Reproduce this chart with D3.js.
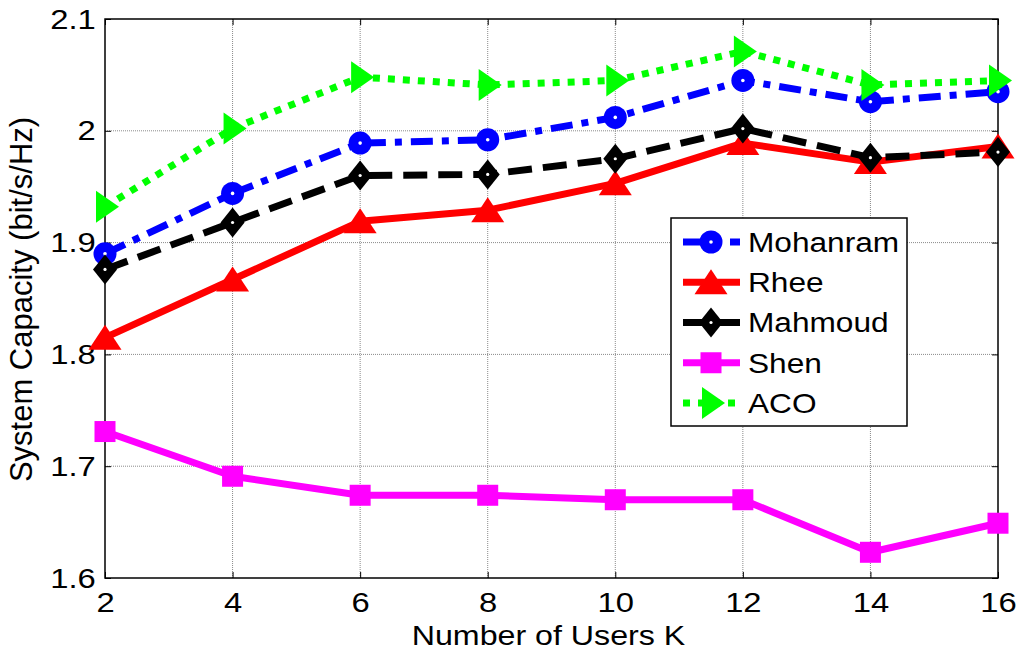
<!DOCTYPE html>
<html>
<head>
<meta charset="utf-8">
<script src="https://cdn.jsdelivr.net/npm/d3@7"></script>
<style>
  html, body { margin: 0; padding: 0; background: #fff; }
  svg { display: block; }
  text { font-family: "Liberation Sans", Arial, sans-serif; fill: #000; }
</style>
</head>
<body>
<svg id="chart" width="1021" height="656"></svg>
<script>
// Number of users on the x axis
const users = [2, 4, 6, 8, 10, 12, 14, 16];

// System capacity (bit/s/Hz) per allocation scheme
const mohanram = [1.890, 1.944, 1.989, 1.992, 2.012, 2.045, 2.026, 2.035];
const rhee     = [1.815, 1.867, 1.919, 1.929, 1.953, 1.989, 1.972, 1.986];
const mahmoud  = [1.876, 1.918, 1.960, 1.961, 1.975, 2.002, 1.976, 1.981];
const shen     = [1.731, 1.691, 1.674, 1.674, 1.670, 1.670, 1.623, 1.649];
const aco      = [1.932, 2.002, 2.048, 2.041, 2.045, 2.071, 2.041, 2.045];

const seriesNames = ["Mohanram", "Rhee", "Mahmoud", "Shen", "ACO"];

// Axis ticks
const xTicks = [2, 4, 6, 8, 10, 12, 14, 16];
const yTicks = [1.6, 1.7, 1.8, 1.9, 2.0, 2.1];
const yTickLabels = ["1.6", "1.7", "1.8", "1.9", "2", "2.1"];

const xTitle = "Number of Users K";
const yTitle = "System Capacity (bit/s/Hz)";

// ---- layout ----
const svg = d3.select("#chart");
const margin = { left: 105, top: 19, right: 23, bottom: 78 };
const W = 1021 - margin.left - margin.right;
const H = 656 - margin.top - margin.bottom;
const stretch = 1.15;   // glyphs in this figure are slightly wide

const x = d3.scaleLinear().domain([2, 16]).range([0, W]);
const y = d3.scaleLinear().domain([1.6, 2.1]).range([H, 0]);

const g = svg.append("g").attr("transform", `translate(${margin.left},${margin.top})`);

// grid
const grid = g.append("g").attr("class", "grid");
grid.selectAll("line.vx").data(xTicks.slice(1, -1)).join("line")
  .attr("x1", d => x(d)).attr("x2", d => x(d)).attr("y1", 0).attr("y2", H);
grid.selectAll("line.hy").data(yTicks.slice(1, -1)).join("line")
  .attr("x1", 0).attr("x2", W).attr("y1", d => y(d)).attr("y2", d => y(d));
grid.selectAll("line")
  .attr("stroke", "#8a8a8a").attr("stroke-width", 1).attr("stroke-dasharray", "1,1");

// axes with inward ticks on all four sides
const styleAxis = sel => {
  sel.select(".domain").remove();
  sel.selectAll(".tick line").attr("stroke", "#000").attr("stroke-width", 1);
};
const bottomAx = g.append("g").attr("transform", `translate(0,${H})`)
  .call(d3.axisBottom(x).tickValues(xTicks).tickSize(-6).tickPadding(14).tickFormat(d3.format("d")));
const leftAx = g.append("g")
  .call(d3.axisLeft(y).tickValues(yTicks).tickSize(-6).tickPadding(8)
    .tickFormat((d, i) => yTickLabels[i]));
g.append("g").call(d3.axisTop(x).tickValues(xTicks).tickSize(-6).tickFormat(""));
g.append("g").attr("transform", `translate(${W},0)`)
  .call(d3.axisRight(y).tickValues(yTicks).tickSize(-6).tickFormat(""));
g.selectAll("g").filter(function () { return this.parentNode === g.node(); }).call(styleAxis);

// tick labels, stretched horizontally about their anchor
[bottomAx, leftAx].forEach(ax => ax.selectAll(".tick text")
  .attr("font-size", 28.5)
  .attr("font-family", "Liberation Sans, Arial, sans-serif")
  .attr("transform", `scale(${stretch},1)`));

// frame
g.append("rect").attr("x", 0).attr("y", 0).attr("width", W).attr("height", H)
  .attr("fill", "none").attr("stroke", "#000").attr("stroke-width", 1.5);

// axis titles
g.append("text")
  .attr("transform", `translate(${W / 2 - 3},${H + 67}) scale(${stretch},1)`)
  .attr("text-anchor", "middle").attr("font-size", 28).text(xTitle);
g.append("text")
  .attr("transform", `translate(${-73},${H / 2 + 1}) rotate(-90)`)
  .attr("text-anchor", "middle").attr("font-size", 31).text(yTitle);

// ---- marker shapes ----
const markers = {
  circle: sel => {
    sel.append("circle").attr("r", 11.5).attr("fill", "#0000ff");
    sel.append("circle").attr("r", 1.8).attr("fill", "#fff");
  },
  triUp: sel => sel.append("path").attr("d", "M0,-13L16.5,12L-16.5,12Z").attr("fill", "#ff0000"),
  diamond: sel => {
    sel.append("path").attr("d", "M0,-15L12,0L0,15L-12,0Z").attr("fill", "#000");
    sel.append("circle").attr("r", 1.6).attr("fill", "#fff");
  },
  square: sel => sel.append("rect").attr("x", -10.5).attr("y", -10.5).attr("width", 21).attr("height", 21).attr("fill", "#ff00ff"),
  triRight: sel => sel.append("path").attr("d", "M-9,-16L14,0L-9,16Z").attr("fill", "#00ff00")
};

const series = [
  { name: seriesNames[0], values: mohanram, color: "#0000ff", dash: "22,9,7,9", marker: "circle" },
  { name: seriesNames[1], values: rhee,     color: "#ff0000", dash: null,       marker: "triUp" },
  { name: seriesNames[2], values: mahmoud,  color: "#000000", dash: "24,11",    marker: "diamond" },
  { name: seriesNames[3], values: shen,     color: "#ff00ff", dash: null,       marker: "square" },
  { name: seriesNames[4], values: aco,      color: "#00ff00", dash: "7,8",      marker: "triRight" }
];

const line = d3.line().x((d, i) => x(users[i])).y(d => y(d));

const plot = g.append("g");
series.forEach(s => {
  const sg = plot.append("g");
  sg.append("path").datum(s.values)
    .attr("d", line).attr("fill", "none")
    .attr("stroke", s.color).attr("stroke-width", 7)
    .attr("stroke-linejoin", "round")
    .attr("stroke-dasharray", s.dash);
  sg.selectAll("g.m").data(s.values).join("g")
    .attr("transform", (d, i) => `translate(${x(users[i])},${y(d)})`)
    .each(function () { markers[s.marker](d3.select(this)); });
});

// ---- legend ----
const legend = svg.append("g").attr("transform", "translate(671,218)");
legend.append("rect").attr("width", 236).attr("height", 208)
  .attr("fill", "#fff").attr("stroke", "#000").attr("stroke-width", 1.5);
const rowY = d3.scalePoint().domain(seriesNames).range([24, 185]);
series.forEach(s => {
  const r = legend.append("g").attr("transform", `translate(0,${rowY(s.name)})`);
  r.append("line").attr("x1", 12).attr("x2", 69).attr("y1", 0).attr("y2", 0)
    .attr("stroke", s.color).attr("stroke-width", 7)
    .attr("stroke-dasharray", s.dash);
  markers[s.marker](r.append("g").attr("transform", "translate(40,0)"));
  r.append("text").attr("transform", `translate(77,0) scale(${stretch},1)`)
    .attr("dy", "0.36em").attr("font-size", 27.5).text(s.name);
});
</script>
</body>
</html>
